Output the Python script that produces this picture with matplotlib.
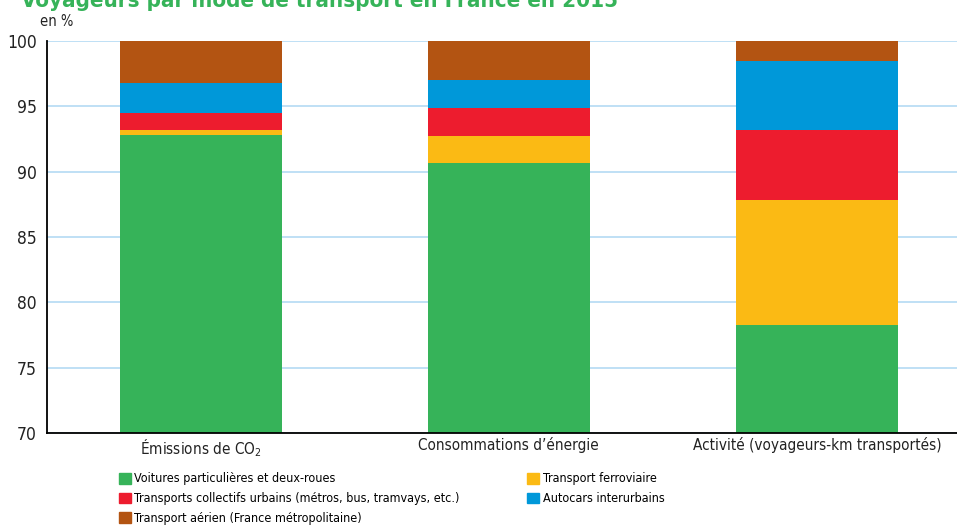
import matplotlib
matplotlib.use('Agg')
import matplotlib.pyplot as plt
from matplotlib.patches import Patch
import numpy as np

plt.rcParams['font.family'] = ['DejaVu Sans']
plt.rcParams['font.stretch'] = 'condensed'
plt.rcParams['mathtext.fontset'] = 'dejavusans'

# data (en %)
categories = ['Émissions de CO$_\\mathregular{2}$', 'Consommations d\u2019énergie',
              'Activité (voyageurs-km transportés)']
series = ['Voitures particulières et deux-roues', 'Transport ferroviaire',
          'Transports collectifs urbains (métros, bus, tramvays, etc.)',
          'Autocars interurbains', 'Transport aérien (France métropolitaine)']
voitures = [92.8, 90.7, 78.3]
ferroviaire = [0.4, 2.05, 9.5]
urbains = [1.3, 2.1, 5.4]
autocars = [2.25, 2.15, 5.3]
aerien = [3.25, 3.0, 1.5]
yticks = [70, 75, 80, 85, 90, 95, 100]

colors = ['#36b359', '#fbba14', '#ed1c2e', '#0098d9', '#b35412']
values = [voitures, ferroviaire, urbains, autocars, aerien]

fig = plt.figure(figsize=(9.57, 5.32), dpi=100)
ax = fig.add_axes([0.0486, 0.1861, 0.9514, 0.7368])

x = np.arange(len(categories))
bottom = np.zeros(len(categories))
for vals, col in zip(values, colors):
    ax.bar(x, vals, bottom=bottom, width=0.526, color=col, zorder=3)
    bottom += np.array(vals)

ax.set_ylim(70, 100)
ax.set_xlim(-0.5, 2.4545)
ax.set_yticks(yticks)
ax.set_xticks(x)
ax.set_xticklabels(categories, fontsize=11, color='#222222')
ax.tick_params(axis='y', labelsize=12.5, length=0, pad=7, labelcolor='#222222')
ax.tick_params(axis='x', length=0, pad=3)
ax.yaxis.grid(True, color='#bfe0f5', lw=1.4, zorder=0)
ax.spines['top'].set_visible(False)
ax.spines['right'].set_visible(False)
ax.spines['left'].set_linewidth(1.3)
ax.spines['bottom'].set_linewidth(1.3)
ax.spines['left'].set_zorder(4)
ax.spines['bottom'].set_zorder(4)

fig.text(0.042, 0.96, 'en %', fontsize=10.5, va='center', color='#222222')
fig.text(0.022, 0.998, 'Voyageurs par mode de transport en France en 2015', fontsize=16,
         color='#36b359', va='center', fontweight='bold')

order = [0, 2, 4, 1, 3]
handles = [Patch(color=colors[i], label=series[i]) for i in order]
fig.legend(handles=handles, loc='upper left', bbox_to_anchor=(0.124, 0.112), ncol=2,
           frameon=False, fontsize=9, handlelength=0.95, handleheight=0.95,
           handletextpad=0.3, labelspacing=0.55, columnspacing=5.4,
           borderpad=0, borderaxespad=0)

fig.savefig('out.png', dpi=100)
